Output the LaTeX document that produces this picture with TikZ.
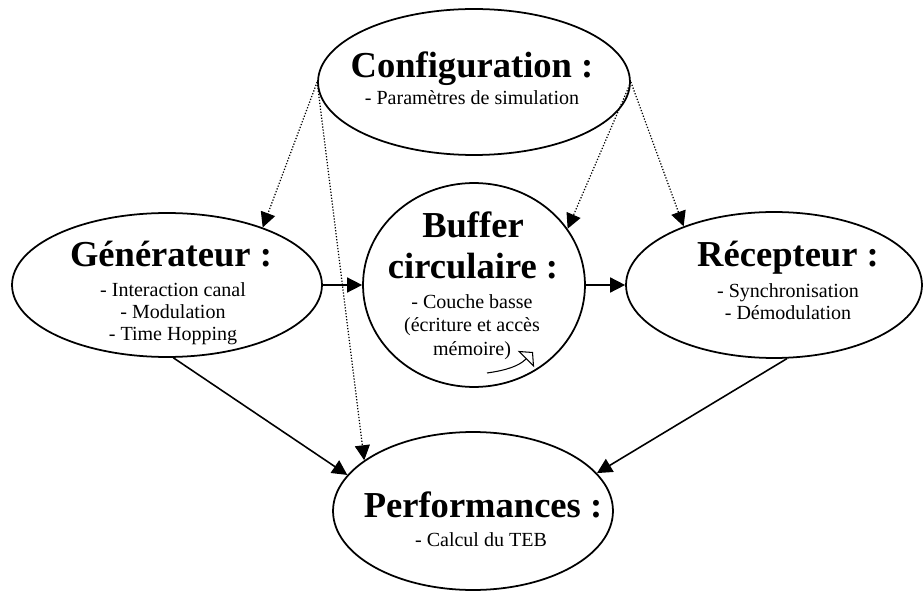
\documentclass[tikz,border=0pt]{standalone}
\usepackage{fontspec}
\setmainfont{Liberation Serif}
\usetikzlibrary{arrows.meta,shapes.geometric}

\newcommand{\titlesize}{\fontsize{20.8}{23.3}\selectfont}
\newcommand{\itemsize}{\fontsize{11.4}{12.3}\selectfont}

\begin{document}
\begin{tikzpicture}[
            x=0.02cm, y=0.02cm,
            bubble/.style={
                draw,
                ellipse,
                line width=1pt,
                inner sep=0pt
            },
            heading/.style={
                font=\titlesize\bfseries,
                anchor=base,
                align=center,
                inner sep=0pt
            },
            items/.style={
                font=\itemsize,
                anchor=base,
                align=center,
                inner sep=0pt
            },
            flow/.style={-{Triangle[length=0.3cm, width=0.3cm]}, line width=0.9pt},
            param/.style={flow, line width=0.7pt, densely dotted}
        ]

            \useasboundingbox (0,0) rectangle (923,-591);

            % (anchor base = baseline of the last line)
            \node[bubble, minimum width=6.24cm, minimum height=2.92cm]
                (config) at (474,-82) {};
            \node[heading] (config title) at (472,-78) {Configuration :};
            \node[items] (config items) at (472,-105) {- Paramètres de simulation};

            \node[bubble, minimum width=6.2cm, minimum height=2.88cm]
                (gen) at (167,-285) {};
            \node[heading] (gen title) at (171,-267) {Générateur :};
            \node[items] (gen items) at (173,-340)
                {- Interaction canal\\- Modulation\\- Time Hopping};

            \node[bubble, minimum width=4.44cm, minimum height=4.08cm]
                (buffer) at (474,-285) {};
            \node[heading] (buffer title) at (473,-278) {Buffer\\circulaire :};
            \node[items, font=\fontsize{11.4}{13.3}\selectfont]
                (buffer items) at (472,-355)
                {- Couche basse\\(écriture et accès\\mémoire)};

            \node[bubble, minimum width=5.92cm, minimum height=2.92cm]
                (rec) at (774,-285) {};
            \node[heading] (rec title) at (788,-267) {Récepteur :};
            \node[items] (rec items) at (788,-319)
                {- Synchronisation\\- Démodulation};

            \node[bubble, minimum width=5.6cm, minimum height=3.16cm]
                (perf) at (473,-511) {};
            \node[heading] (perf title) at (483,-517) {Performances :};
            \node[items] (perf items) at (481,-546) {- Calcul du TEB};

            % parametres
            \draw[param] (config.west) -- (gen.31);
            \draw[param] (config.west) -- (perf.155);
            \draw[param] (config.east) -- (buffer.31);
            \draw[param] (config.east) -- (rec.147);

            % donnees
            \draw[flow] (gen.east) -- (buffer.west);
            \draw[flow] (buffer.east) -- (rec.west);
            \draw[flow] (gen.-85) -- (perf.164);
            \draw[flow] (rec.-80) -- (perf.17);

            % buffer circulaire
            \coordinate (loop start) at (487,-373);
            \coordinate (loop end) at (533,-352);
            \draw[-{Triangle[open, length=0.2cm, width=0.46cm]}, line width=0.6pt]
                (loop start) to[out=8, in=225] (loop end);

        \end{tikzpicture}
\end{document}
